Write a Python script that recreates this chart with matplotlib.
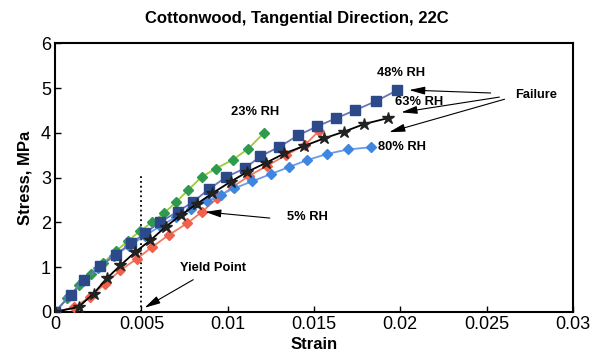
import matplotlib.pyplot as plt

plt.rcParams['font.family'] = ['Liberation Sans', 'DejaVu Sans']

# Datos (deformación, esfuerzo en MPa)
strain_23 = [0, 0.0007, 0.0014, 0.0021, 0.0028, 0.0035, 0.0042, 0.0049, 0.0056, 0.0063,
             0.0070, 0.0077, 0.0085, 0.0093, 0.0103, 0.0112, 0.0121]
stress_23 = [0, 0.3, 0.6, 0.85, 1.1, 1.35, 1.58, 1.8, 2.0, 2.2,
             2.45, 2.72, 3.02, 3.2, 3.4, 3.65, 4.0]

strain_48 = [0, 0.0009, 0.0017, 0.0026, 0.0035, 0.0044, 0.0052, 0.0061, 0.0071, 0.0080,
             0.0089, 0.0099, 0.0110, 0.0119, 0.0130, 0.0141, 0.0152, 0.0163, 0.0174,
             0.0186, 0.0198]
stress_48 = [0, 0.38, 0.72, 1.02, 1.28, 1.53, 1.76, 2.01, 2.24, 2.46,
             2.74, 3.01, 3.21, 3.48, 3.69, 3.95, 4.15, 4.33, 4.51,
             4.71, 4.95]

strain_63 = [0, 0.00136, 0.00223, 0.0030, 0.00378, 0.00465, 0.00552, 0.0064, 0.00727,
             0.00824, 0.00911, 0.01017, 0.01114, 0.01221, 0.01328, 0.01444, 0.0156,
             0.01676, 0.01792, 0.01928]
stress_63 = [0, 0.11, 0.41, 0.75, 1.04, 1.34, 1.6, 1.9, 2.16,
             2.42, 2.65, 2.91, 3.13, 3.33, 3.54, 3.71, 3.88,
             4.03, 4.2, 4.33]

strain_5 = [0, 0.0011, 0.0020, 0.0029, 0.00378, 0.00475, 0.00562, 0.00659, 0.00765,
            0.00852, 0.0094, 0.01032, 0.01124, 0.0123, 0.01337, 0.0145, 0.0153]
stress_5 = [0, 0.1, 0.33, 0.63, 0.93, 1.19, 1.45, 1.72, 1.98,
            2.24, 2.54, 2.8, 3.04, 3.27, 3.5, 3.74, 4.05]

strain_80 = [0, 0.0008, 0.0016, 0.0025, 0.0034, 0.0043, 0.0052, 0.0061, 0.0070,
             0.0079, 0.0088, 0.0096, 0.01037, 0.01143, 0.0125, 0.01357, 0.01459,
             0.01576, 0.01696, 0.01831]
stress_80 = [0, 0.35, 0.68, 0.98, 1.25, 1.48, 1.7, 1.92, 2.12,
             2.3, 2.47, 2.62, 2.76, 2.92, 3.08, 3.24, 3.39,
             3.53, 3.63, 3.68]

x_ticks = [0, 0.005, 0.01, 0.015, 0.02, 0.025, 0.03]
x_tick_labels = ["0", "0.005", "0.01", "0.015", "0.02", "0.025", "0.03"]
y_ticks = [0, 1, 2, 3, 4, 5, 6]

fig = plt.figure(figsize=(5.93, 3.56), dpi=100)
ax = fig.add_axes([0.093, 0.124, 0.873, 0.754])

# Curvas
ax.plot(strain_23, stress_23, c='#9acd3a', lw=1.3, marker='D', ms=5.5,
        mfc='#2e9a4e', mec='#2e9a4e', zorder=3)
ax.plot(strain_5, stress_5, c='#f07a60', lw=1.3, marker='D', ms=5.5,
        mfc='#f0604a', mec='#f0604a', zorder=3)
ax.plot(strain_80, stress_80, c='#6a9ae8', lw=1.3, marker='D', ms=5.5,
        mfc='#3f86e0', mec='#3f86e0', zorder=3)
ax.plot(strain_63, stress_63, c='black', lw=1.3, marker='*', ms=9,
        mfc='#222222', mec='#222222', zorder=4)
ax.plot(strain_48, stress_48, c='#6a74b8', lw=1.3, marker='s', ms=6.5,
        mfc='#2c4a8a', mec='#2c4a8a', zorder=3)

# Línea punteada del punto de fluencia
ax.plot([0.005, 0.005], [0, 3.05], c='black', ls=':', lw=1.3)

# Textos y flechas
bold = dict(fontsize=9.3, fontweight='bold')
arrow = dict(arrowstyle='-|>,head_length=0.8,head_width=0.2', color='black',
             lw=0.8, mutation_scale=12)
ax.text(0.01157, 4.47, "23% RH", ha='center', va='center', **bold)
ax.text(0.02006, 5.34, "48% RH", ha='center', va='center', **bold)
ax.text(0.0197, 4.69, "63% RH", ha='left', va='center', **bold)
ax.text(0.0187, 3.68, "80% RH", ha='left', va='center', **bold)
ax.text(0.0279, 4.85, "Failure", ha='center', va='center', **bold)
ax.text(0.0146, 2.13, "5% RH", ha='center', va='center', **bold)
ax.text(0.00913, 0.98, "Yield Point", ha='center', va='center', **bold)

ax.annotate("", xy=(0.02035, 4.96), xytext=(0.0254, 4.89), arrowprops=arrow)
ax.annotate("", xy=(0.0199, 4.45), xytext=(0.0259, 4.81), arrowprops=arrow)
ax.annotate("", xy=(0.0192, 4.0), xytext=(0.0262, 4.77), arrowprops=arrow)
ax.annotate("", xy=(0.00853, 2.24), xytext=(0.0126, 2.09), arrowprops=arrow)
ax.annotate("", xy=(0.00504, 0.06), xytext=(0.00814, 0.75), arrowprops=arrow)

# Ejes
ax.set_xlim(0, 0.03)
ax.set_ylim(0, 6)
ax.set_xticks(x_ticks)
ax.set_xticklabels(x_tick_labels)
ax.set_yticks(y_ticks)
ax.tick_params(direction='in', length=4, width=1, labelsize=13, pad=3)
for s in ax.spines.values():
    s.set_linewidth(1.5)
ax.set_xlabel("Strain", fontsize=12, fontweight='bold', labelpad=3)
ax.set_ylabel("Stress, MPa", fontsize=12, fontweight='bold', labelpad=6)
fig.suptitle("Cottonwood, Tangential Direction, 22C", fontsize=12,
             fontweight='bold', x=0.5, y=0.97)

fig.savefig("out.png", dpi=100)
